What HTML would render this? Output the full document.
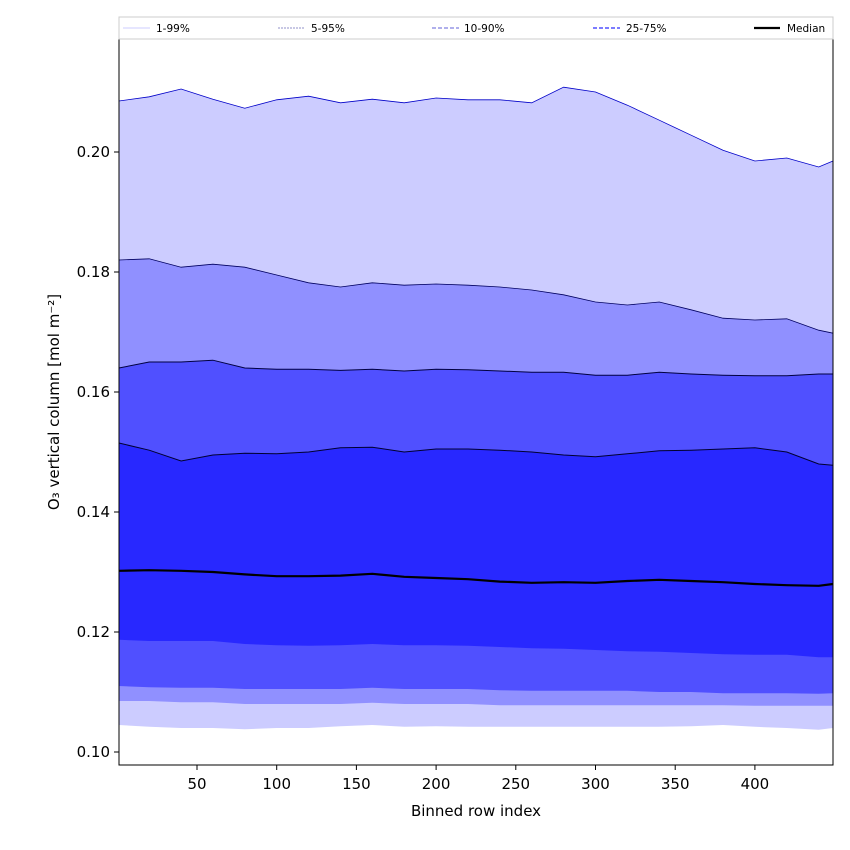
<!DOCTYPE html>
<html><head><meta charset="utf-8"><style>
body{margin:0;background:#fff;}
svg{display:block;font-family:"DejaVu Sans","Liberation Sans",sans-serif;}
</style></head><body>
<svg id="chart" width="850" height="850" viewBox="0 0 850 850">
<rect x="0" y="0" width="850" height="850" fill="#fff"/>
<g id="bands"></g>
<g id="lines"></g>
<rect x="119" y="39" width="714" height="726" fill="none" stroke="#000" stroke-width="1"/>
<g id="xaxis"></g>
<g id="yaxis"></g>
<text x="476" y="816" font-size="15" text-anchor="middle">Binned row index</text>
<text transform="translate(59,402) rotate(-90)" font-size="15" text-anchor="middle">O₃ vertical column [mol m⁻²]</text>
<g>
<rect x="119" y="17" width="714" height="22" fill="#fff" stroke="#ccc"/>
<g><line x1="123" y1="28" x2="150" y2="28" stroke="#ccccff" stroke-width="1"/><text x="156" y="32" font-size="10.5">1-99%</text></g>
<g><line x1="278" y1="28" x2="305" y2="28" stroke="#9090c8" stroke-width="1" stroke-dasharray="2,1"/><text x="311" y="32" font-size="10.5">5-95%</text></g>
<g><line x1="432" y1="28" x2="459" y2="28" stroke="#8080e0" stroke-width="1.2" stroke-dasharray="4,2"/><text x="464" y="32" font-size="10.5">10-90%</text></g>
<g><line x1="593" y1="28" x2="620" y2="28" stroke="#5050ff" stroke-width="1.4" stroke-dasharray="4,2"/><text x="626" y="32" font-size="10.5">25-75%</text></g>
<g><line x1="754" y1="28" x2="780" y2="28" stroke="#000" stroke-width="2.2"/><text x="787" y="32" font-size="10.5">Median</text></g>
</g>
</svg>
<script>
const xIdx=[1,20,40,60,80,100,120,140,160,180,200,220,240,260,280,300,320,340,360,380,400,420,440,449];
const p99=[0.2085,0.2092,0.2105,0.2088,0.2073,0.2087,0.2093,0.2082,0.2088,0.2082,0.2090,0.2087,0.2087,0.2082,0.2108,0.2100,0.2078,0.2053,0.2028,0.2003,0.1985,0.1990,0.1975,0.1985];
const p95=[0.1820,0.1822,0.1808,0.1813,0.1808,0.1795,0.1782,0.1775,0.1782,0.1778,0.1780,0.1778,0.1775,0.1770,0.1762,0.1750,0.1745,0.1750,0.1737,0.1723,0.1720,0.1722,0.1703,0.1698];
const p90=[0.1640,0.1650,0.1650,0.1653,0.1640,0.1638,0.1638,0.1636,0.1638,0.1635,0.1638,0.1637,0.1635,0.1633,0.1633,0.1628,0.1628,0.1633,0.1630,0.1628,0.1627,0.1627,0.1630,0.1630];
const p75=[0.1515,0.1503,0.1485,0.1495,0.1498,0.1497,0.1500,0.1507,0.1508,0.1500,0.1505,0.1505,0.1503,0.1500,0.1495,0.1492,0.1497,0.1502,0.1503,0.1505,0.1507,0.1500,0.1480,0.1478];
const p50=[0.1302,0.1303,0.1302,0.1300,0.1296,0.1293,0.1293,0.1294,0.1297,0.1292,0.1290,0.1288,0.1284,0.1282,0.1283,0.1282,0.1285,0.1287,0.1285,0.1283,0.1280,0.1278,0.1277,0.1280];
const p25=[0.1187,0.1185,0.1185,0.1185,0.1180,0.1178,0.1177,0.1178,0.1180,0.1178,0.1178,0.1177,0.1175,0.1173,0.1172,0.1170,0.1168,0.1167,0.1165,0.1163,0.1162,0.1162,0.1158,0.1158];
const p10=[0.1110,0.1108,0.1107,0.1107,0.1105,0.1105,0.1105,0.1105,0.1107,0.1105,0.1105,0.1105,0.1103,0.1102,0.1102,0.1102,0.1102,0.1100,0.1100,0.1098,0.1098,0.1098,0.1097,0.1098];
const p5=[0.1085,0.1085,0.1083,0.1083,0.1080,0.1080,0.1080,0.1080,0.1082,0.1080,0.1080,0.1080,0.1078,0.1078,0.1078,0.1078,0.1078,0.1078,0.1078,0.1078,0.1077,0.1077,0.1077,0.1077];
const p1=[0.1045,0.1042,0.1040,0.1040,0.1038,0.1040,0.1040,0.1043,0.1045,0.1042,0.1043,0.1042,0.1042,0.1042,0.1042,0.1042,0.1042,0.1042,0.1043,0.1045,0.1042,0.1040,0.1037,0.1040];
const xTicks=[50,100,150,200,250,300,350,400];
const yTicks=[0.10,0.12,0.14,0.16,0.18,0.20];

const NS="http://www.w3.org/2000/svg";
const X=v=>117.3+(v)*1.594;
const Y=v=>152+(0.2-v)*6000;
function mk(tag,attrs,parent){const e=document.createElementNS(NS,tag);for(const k in attrs)e.setAttribute(k,attrs[k]);parent.appendChild(e);return e;}
function linePts(arr){return xIdx.map((x,i)=>X(x).toFixed(1)+","+Y(arr[i]).toFixed(1)).join(" ");}
function bandPts(up,lo){const a=xIdx.map((x,i)=>X(x).toFixed(1)+","+Y(up[i]).toFixed(1));const b=xIdx.map((x,i)=>X(x).toFixed(1)+","+Y(lo[i]).toFixed(1)).reverse();return a.concat(b).join(" ");}
const bands=document.getElementById('bands');
const lines=document.getElementById('lines');
const bandDefs=[[p99,p1,'#ccccff','band-1-99'],[p95,p5,'#9090ff','band-5-95'],[p90,p10,'#5050ff','band-10-90'],[p75,p25,'#2828ff','band-25-75']];
bandDefs.forEach(d=>{
  const p=mk('polygon',{points:bandPts(d[0],d[1]),fill:d[2]},bands);
  
  
});
const lineDefs=[[p99,'#0000c8',0.8,'line-p99'],[p95,'#000060',0.8,'line-p95'],[p90,'#000040',1,'line-p90'],[p75,'#000030',1,'line-p75'],[p50,'#000',2.2,'line-median']];
lineDefs.forEach(d=>{
  const l=mk('polyline',{points:linePts(d[0]),fill:'none',stroke:d[1],'stroke-width':d[2]},lines);
  
  
});
const xa=document.getElementById('xaxis');
xTicks.forEach(t=>{
  const g=mk('g',{},xa);
  
  
  mk('line',{x1:X(t),x2:X(t),y1:765,y2:770,stroke:'#000'},g);
  const tx=mk('text',{x:X(t),y:789,'font-size':15,'text-anchor':'middle'},g);tx.textContent=t;
});
const ya=document.getElementById('yaxis');
yTicks.forEach(t=>{
  const g=mk('g',{},ya);
  
  
  mk('line',{x1:114,x2:119,y1:Y(t),y2:Y(t),stroke:'#000'},g);
  const tx=mk('text',{x:110,y:Y(t)+5,'font-size':15,'text-anchor':'end'},g);tx.textContent=t.toFixed(2);
});
</script>
</body></html>
